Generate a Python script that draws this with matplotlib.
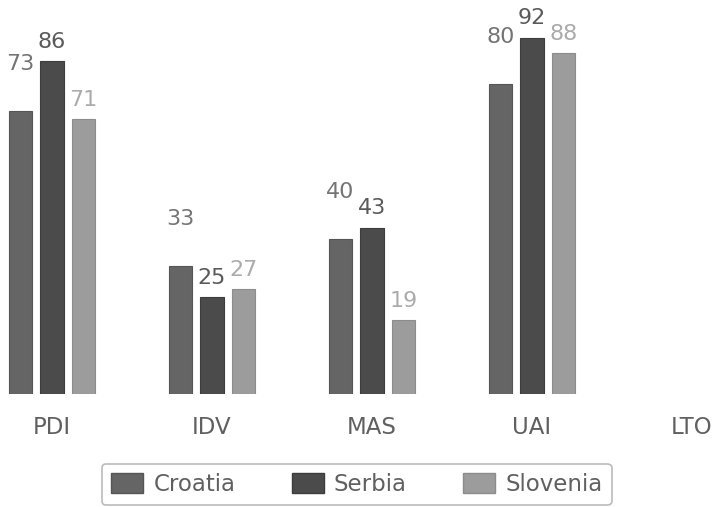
import matplotlib
matplotlib.use('Agg')
import matplotlib.pyplot as plt
from matplotlib.patches import Patch
import numpy as np

plt.rcParams['font.family'] = ['DejaVu Sans']

categories = ['PDI', 'IDV', 'MAS', 'UAI', 'LTO']
countries = ['Croatia', 'Serbia', 'Slovenia']
croatia = [73, 33, 40, 80]
serbia = [86, 25, 43, 92]
slovenia = [71, 27, 19, 88]

bar_colors = ['#656565', '#4b4b4b', '#9c9c9c']
edge_colors = ['#555555', '#3c3c3c', '#8c8c8c']
label_colors = ['#747474', '#5a5a5a', '#ababab']
label_offsets = [34, 14, 14]  # points above bar top

fig = plt.figure(figsize=(7.18, 5.07), dpi=100)
ax = fig.add_axes([0, 0.2229, 1, 0.7771])

x = np.arange(len(croatia))
width = 0.144
shift = 0.197
for k, vals in enumerate([croatia, serbia, slovenia]):
    pos = x + (k - 1) * shift
    bars = ax.bar(pos, vals, width, color=bar_colors[k], edgecolor=edge_colors[k],
                  linewidth=0.8)
    for b, v in zip(bars, vals):
        ax.annotate(str(v), (b.get_x() + b.get_width() / 2, v),
                    xytext=(0, label_offsets[k]), textcoords='offset points',
                    ha='center', va='center', fontsize=16, color=label_colors[k])

ax.set_xlim(-0.325, 4.1625)
ax.set_ylim(0, 101.8)
ax.set_xticks(np.arange(len(categories)))
ax.set_xticklabels(categories, fontsize=16.5, color='#606060')
ax.tick_params(axis='x', length=0, pad=16)
ax.set_yticks([])
for s in ax.spines.values():
    s.set_visible(False)

handles = [Patch(facecolor=bar_colors[k], edgecolor=edge_colors[k], label=countries[k])
           for k in range(3)]
leg = fig.legend(handles=handles, loc='center', bbox_to_anchor=(0.497, 0.0444), ncol=3,
                 fontsize=16.5, frameon=True, fancybox=True, edgecolor='#aaaaaa',
                 handlelength=1.4, handleheight=1.0, handletextpad=0.45,
                 columnspacing=2.45, borderpad=0.4, labelcolor='#606060')
leg.get_frame().set_linewidth(1.2)

fig.savefig('out.png', dpi=100)
